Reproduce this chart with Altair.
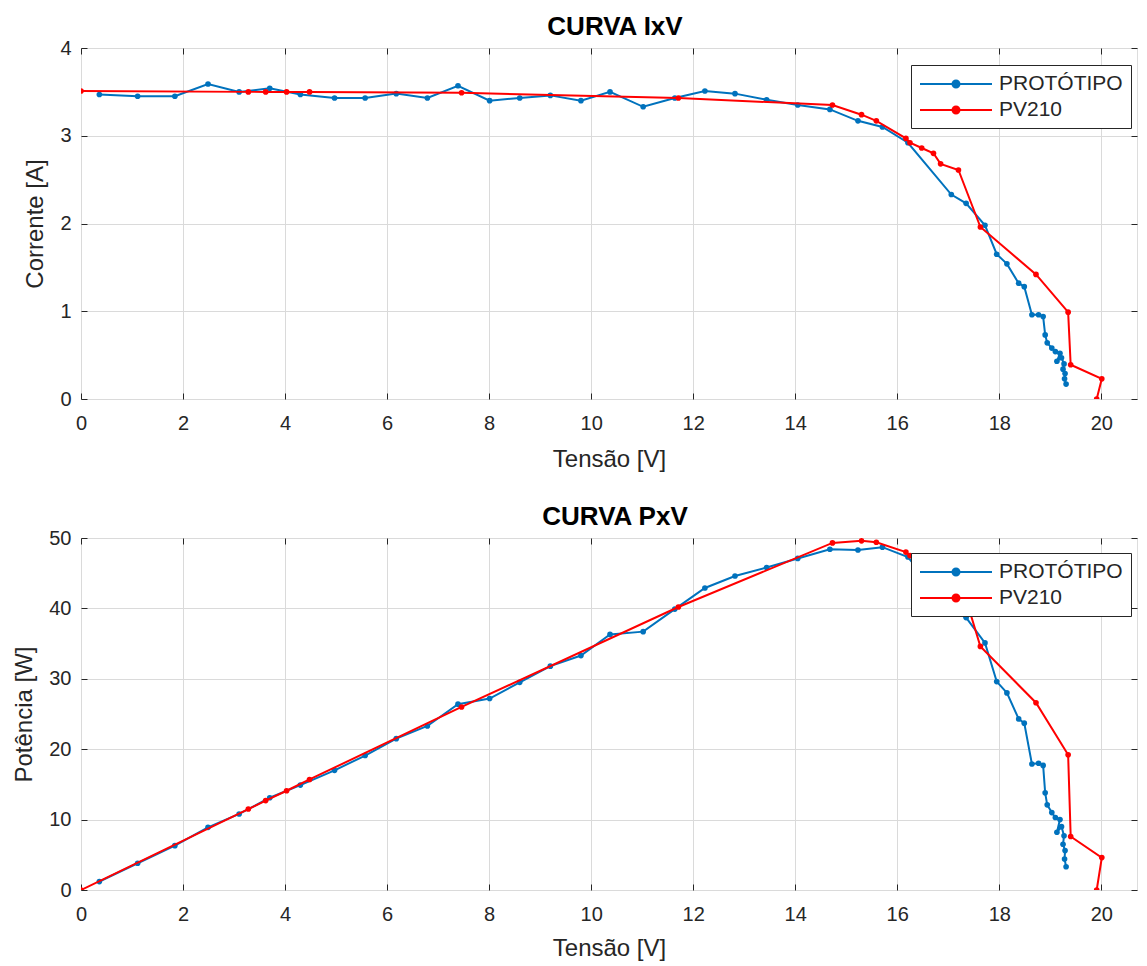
import altair as alt
import pandas as pd

# ---------------- data ----------------
series_names = ["PROTÓTIPO", "PV210"]
series_colors = ["#0072BD", "#FF0000"]

proto_v = [0.36, 1.11, 1.84, 2.49, 3.10, 3.70, 4.30, 4.97, 5.57, 6.18, 6.79, 7.39,
           8.01, 8.60, 9.20, 9.80, 10.37, 11.02, 11.64, 12.23, 12.82, 13.44, 14.05,
           14.68, 15.23, 15.71, 16.21, 17.06, 17.35, 17.72, 17.95, 18.15, 18.38, 18.49,
           18.64, 18.77, 18.86, 18.90, 18.94, 19.03, 19.10, 19.19, 19.13, 19.22, 19.27,
           19.25, 19.29, 19.28, 19.31]
proto_i = [3.47, 3.45, 3.45, 3.59, 3.50, 3.54, 3.47, 3.43, 3.43, 3.48, 3.43, 3.57,
           3.40, 3.43, 3.46, 3.40, 3.50, 3.33, 3.43, 3.51, 3.48, 3.41, 3.35,
           3.30, 3.17, 3.10, 2.92, 2.33, 2.23, 1.98, 1.65, 1.54, 1.32, 1.28,
           0.96, 0.96, 0.94, 0.73, 0.64, 0.58, 0.54, 0.52, 0.43, 0.47, 0.40,
           0.34, 0.29, 0.23, 0.17]
proto_p = [1.2, 3.8, 6.3, 8.9, 10.8, 13.1, 14.9, 17.0, 19.1, 21.5, 23.3, 26.4,
           27.2, 29.5, 31.8, 33.3, 36.3, 36.7, 39.9, 42.9, 44.6, 45.8, 47.1,
           48.4, 48.3, 48.7, 47.3, 39.7, 38.7, 35.1, 29.6, 28.0, 24.3, 23.7,
           17.9, 18.0, 17.7, 13.8, 12.1, 11.0, 10.3, 10.0, 8.2, 9.0, 7.7,
           6.5, 5.6, 4.4, 3.3]

pv_v = [0.0, 3.28, 3.62, 4.03, 4.48, 7.46, 11.71, 14.73, 15.30, 15.59, 16.17, 16.25,
        16.48, 16.71, 16.85, 17.20, 17.63, 18.72, 19.35, 19.40, 20.01, 19.91]
pv_i = [3.51, 3.50, 3.50, 3.50, 3.50, 3.49, 3.43, 3.35, 3.24, 3.17, 2.97, 2.92,
        2.86, 2.80, 2.68, 2.61, 1.96, 1.42, 0.99, 0.39, 0.23, 0.00]
pv_p = [0.0, 11.5, 12.7, 14.1, 15.7, 26.0, 40.2, 49.3, 49.6, 49.4, 48.0, 47.5,
        47.1, 46.8, 45.2, 44.9, 34.6, 26.6, 19.2, 7.6, 4.6, 0.0]

x_ticks = [0, 2, 4, 6, 8, 10, 12, 14, 16, 18, 20]
i_ticks = [0, 1, 2, 3, 4]
p_ticks = [0, 10, 20, 30, 40, 50]

rows = []
for k, (v, i, p) in enumerate(zip(proto_v, proto_i, proto_p)):
    rows.append({"series": series_names[0], "idx": k, "V": v, "I": i, "P": p})
for k, (v, i, p) in enumerate(zip(pv_v, pv_i, pv_p)):
    rows.append({"series": series_names[1], "idx": k, "V": v, "I": i, "P": p})
df = pd.DataFrame(rows)

# ---------------- styling ----------------
FONT = "Liberation Sans"
TXT = "#262626"
GRID = "#dadada"
W = 1056
TICK = 6
LBL = 20
TTL = 24
# legend glyph: a line with a dot in the middle (symbolSize 400 -> unit = 10 px)
LEG_PATH = "M-3.6,0H3.6M-0.35,0A0.35,0.35,0,1,1,0.35,0A0.35,0.35,0,1,1,-0.35,0Z"


def panel(ycol, ytitle, ymax, yticks, title, height, legend_y, xtitle_pad):
    xscale = alt.Scale(domain=[0, 20.7], nice=False, zero=False)
    yscale = alt.Scale(domain=[0, ymax], nice=False, zero=False)
    x_main = alt.X("V:Q", scale=xscale, axis=alt.Axis(
        orient="bottom", values=x_ticks, title="Tensão [V]", grid=True, gridColor=GRID,
        domain=False, tickSize=TICK, offset=-TICK, tickColor=TXT, labelFlush=False,
        labelPadding=14, labelFontSize=LBL, labelFont=FONT, labelColor=TXT,
        titleFontSize=TTL, titleFont=FONT, titleColor=TXT, titleFontWeight="normal",
        titlePadding=xtitle_pad))
    y_main = alt.Y(f"{ycol}:Q", scale=yscale, axis=alt.Axis(
        orient="left", values=yticks, title=ytitle, grid=True, gridColor=GRID,
        domain=False, tickSize=TICK, offset=-TICK, tickColor=TXT, labelFlush=False,
        labelPadding=10, labelFontSize=LBL, labelFont=FONT, labelColor=TXT,
        titleFontSize=TTL, titleFont=FONT, titleColor=TXT, titleFontWeight="normal",
        titlePadding=12))
    color = alt.Color("series:N", sort=series_names,
                      scale=alt.Scale(domain=series_names, range=series_colors),
                      legend=alt.Legend(
                          title=None, orient="none", legendX=830, legendY=legend_y,
                          direction="vertical", fillColor="white", strokeColor=TXT,
                          padding=8, symbolType=LEG_PATH, symbolSize=400,
                          symbolOffset=26, symbolStrokeWidth=2, symbolOpacity=1,
                          labelFontSize=21, labelFont=FONT, labelColor=TXT,
                          labelOffset=32, rowPadding=5, cornerRadius=0))
    layers = []
    for name in series_names:
        sub = alt.Chart(df).transform_filter(alt.datum.series == name)
        layers.append(sub.mark_line(strokeWidth=2, clip=True).encode(
            x=x_main, y=y_main, color=color, order="idx:Q"))
        layers.append(sub.mark_circle(size=32, opacity=1, clip=True).encode(
            x=x_main, y=y_main, color=color))
    frame = alt.Chart(df).mark_point(opacity=0).encode(
        x=alt.X("V:Q", scale=xscale, axis=alt.Axis(
            orient="top", values=x_ticks, labels=False, title=None, domain=False,
            grid=False, tickSize=TICK, offset=-TICK, tickColor=TXT)),
        y=alt.Y(f"{ycol}:Q", scale=yscale, axis=alt.Axis(
            orient="right", values=yticks, labels=False, title=None, domain=False,
            grid=False, tickSize=TICK, offset=-TICK, tickColor=TXT)))
    return alt.layer(alt.layer(*layers), frame).resolve_axis(
        x="independent", y="independent").properties(
        width=W, height=height,
        title=alt.Title(title, fontSize=26, fontWeight="bold", font=FONT, color="#000000",
                        anchor="middle", offset=-2, dx=6))


top = panel("I", "Corrente [A]", 4, i_ticks, "CURVA IxV", 351, 17, 14)
bottom = panel("P", "Potência [W]", 50, p_ticks, "CURVA PxV", 352, 15, 12)

chart = alt.vconcat(top, bottom, spacing=31).resolve_scale(
    color="independent").resolve_legend(color="independent").configure_view(
    stroke=TXT, strokeWidth=1).properties(
    padding={"left": 4, "top": 5, "right": 0, "bottom": 0}).configure(background="white")

chart.save("out.html", embed_options={"renderer": "svg", "actions": False})
